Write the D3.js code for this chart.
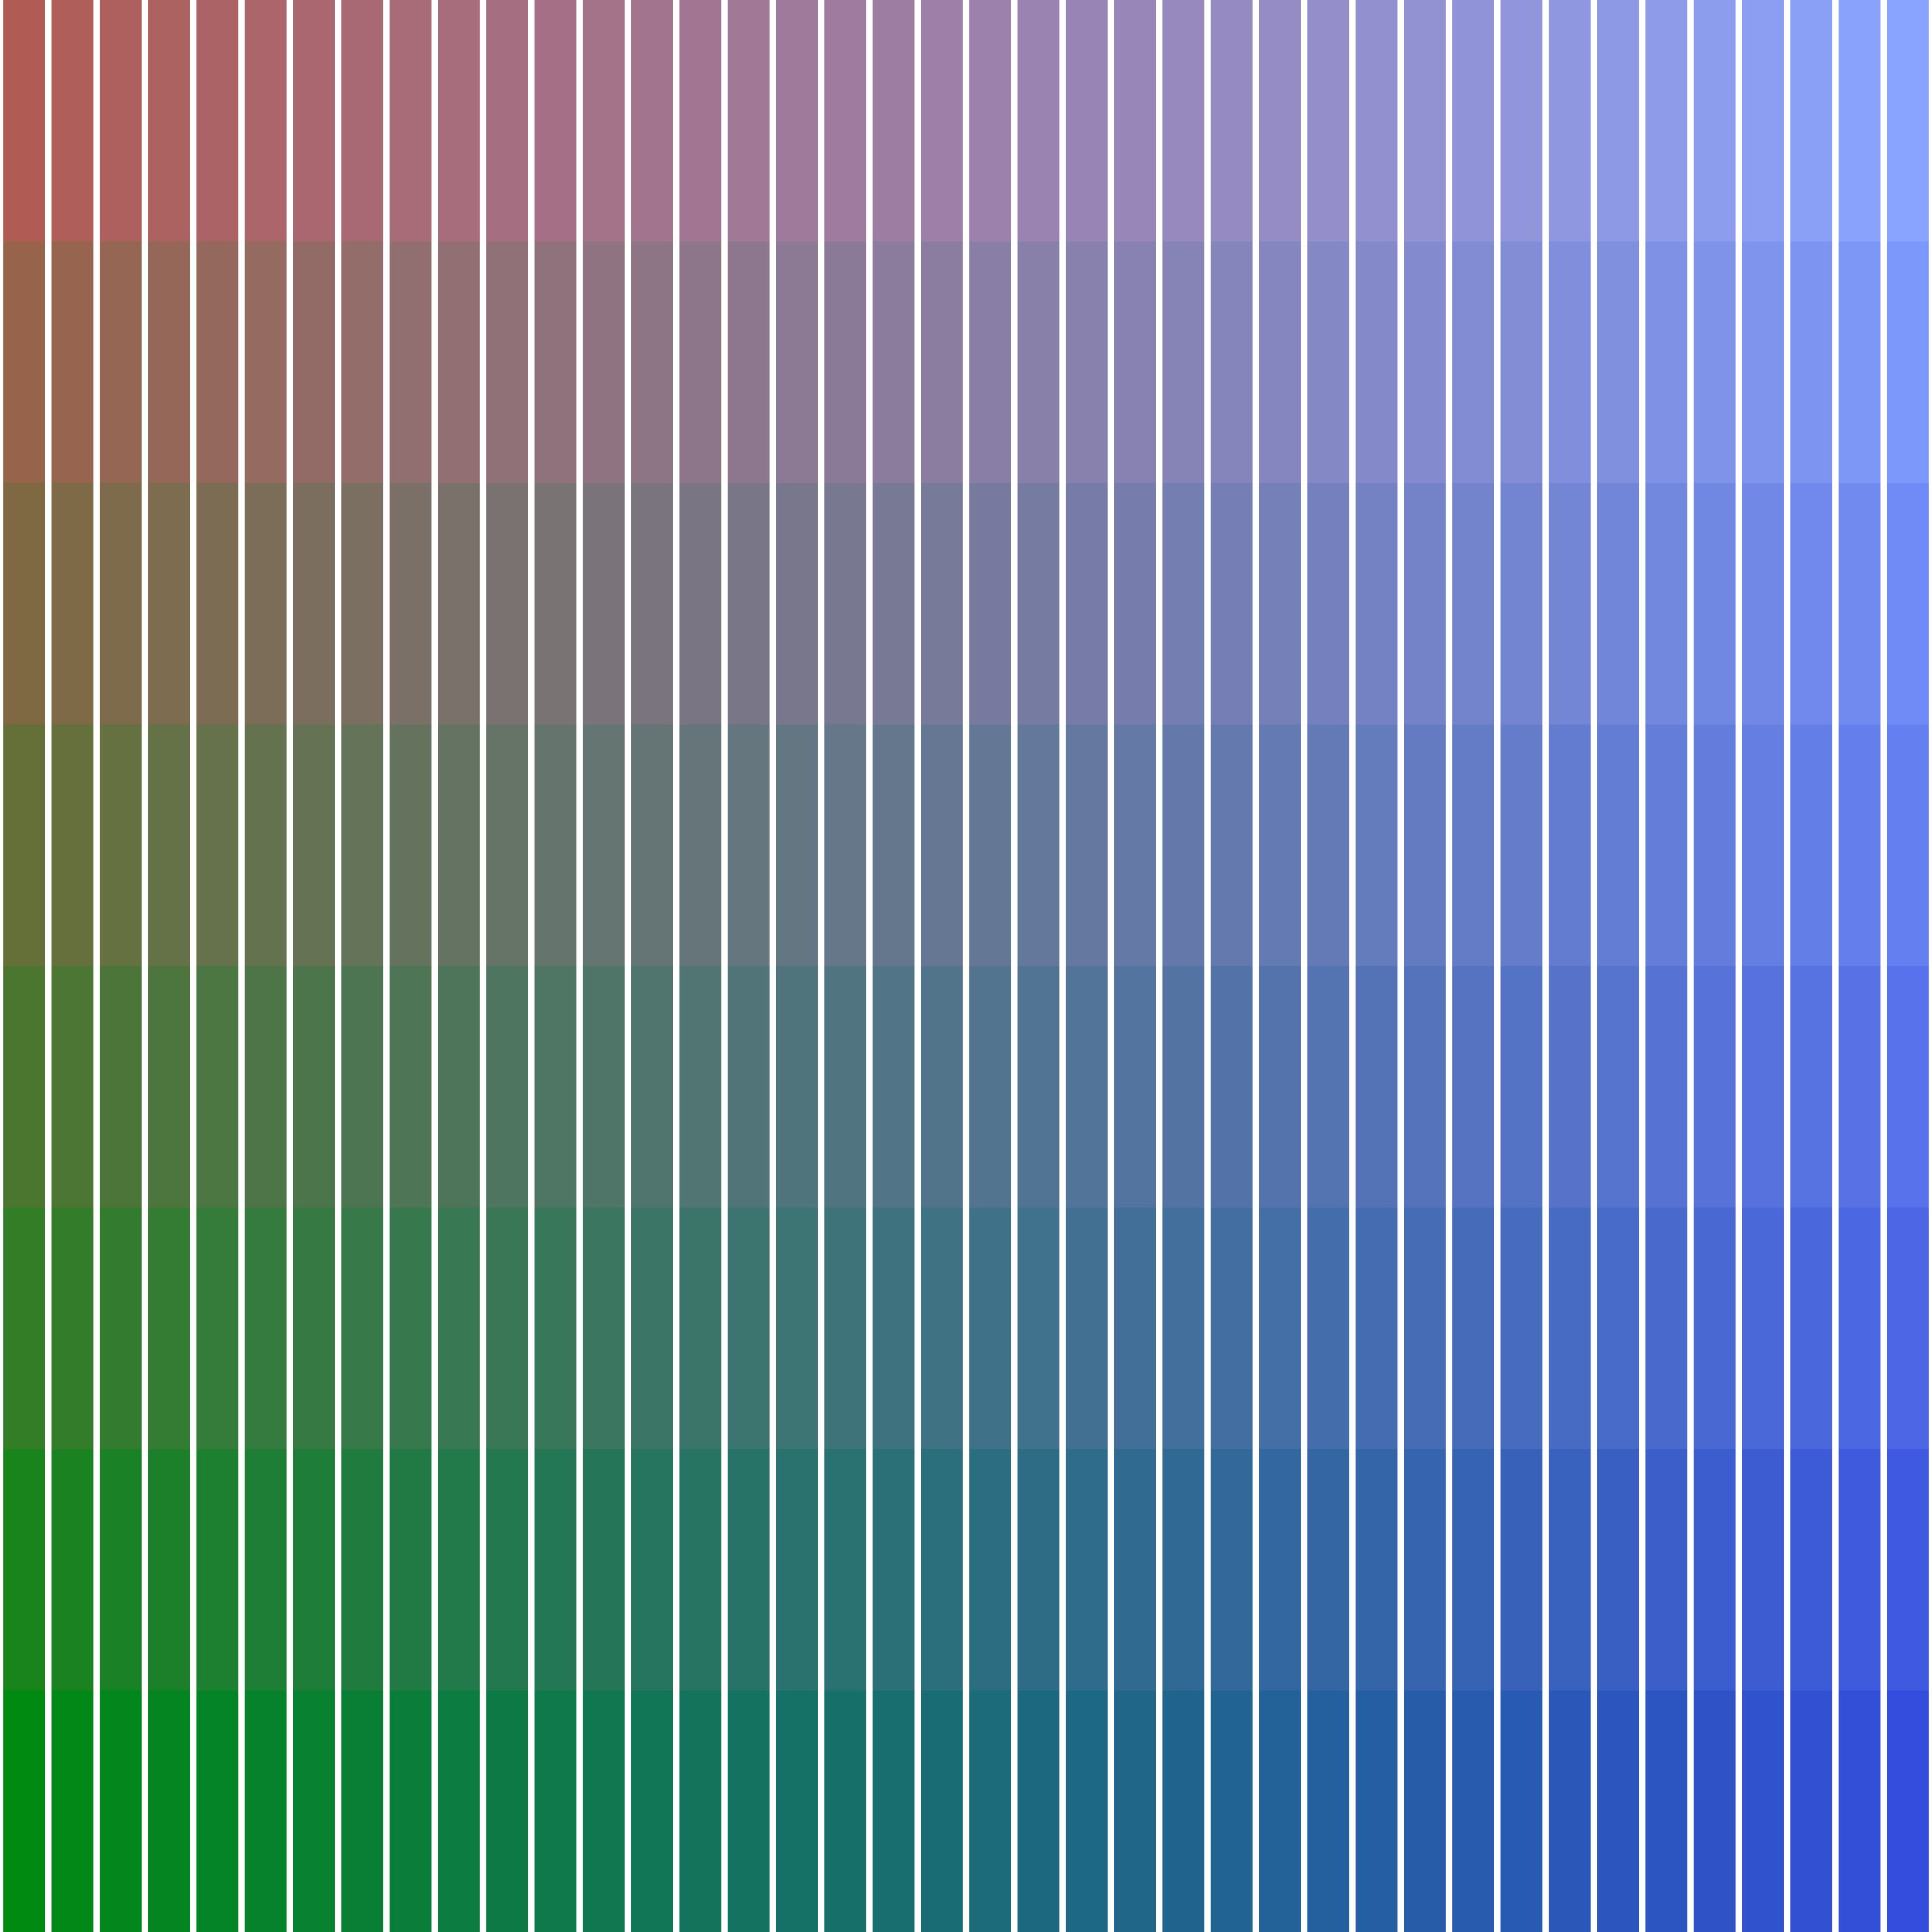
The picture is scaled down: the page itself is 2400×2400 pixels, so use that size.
<!DOCTYPE html>
<html>
<head>
<meta charset="utf-8">
<script src="https://cdn.jsdelivr.net/npm/d3@7"></script>
<style>
  html, body { margin: 0; padding: 0; background: #ffffff; }
</style>
</head>
<body>
<div id="grid"></div>
<script>
// column and row categories
var columns = [0, 1, 2, 3, 4, 5, 6, 7, 8, 9,
               10, 11, 12, 13, 14, 15, 16, 17, 18, 19,
               20, 21, 22, 23, 24, 25, 26, 27, 28, 29,
               30, 31, 32, 33, 34, 35, 36, 37, 38, 39];
var rows = [0, 1, 2, 3, 4, 5, 6, 7];

// corner colours of the grid
var cornerLeft = ["#b05c55", "#008a12"];   // top, bottom
var cornerRight = ["#88a4ff", "#344ddc"];  // top, bottom

function drawGrid() {

  var svgWidth = 2400;
  var svgHeight = 2400;

  var svg = d3.select("#grid")
      .append("svg")
      .attr("width", svgWidth)
      .attr("height", svgHeight)
      .style("display", "block");

  // band scales for cells
  var xScale = d3.scaleBand()
      .domain(columns)
      .range([0, svgWidth])
      .paddingInner(8 / 60)
      .paddingOuter(4 / 60);

  var yScale = d3.scaleBand()
      .domain(rows)
      .range([0, svgHeight])
      .padding(0);

  // colour along each edge, then across the row
  var leftColor = d3.scaleLinear()
      .domain([rows[0], rows[rows.length - 1]])
      .range(cornerLeft)
      .interpolate(d3.interpolateRgb);

  var rightColor = d3.scaleLinear()
      .domain([rows[0], rows[rows.length - 1]])
      .range(cornerRight)
      .interpolate(d3.interpolateRgb);

  function cellColor(c, r) {
    return d3.scaleLinear()
      .domain([columns[0], columns[columns.length - 1]])
      .range([leftColor(r), rightColor(r)])
      .interpolate(d3.interpolateRgb)(c);
  }

  var cells = [];
  rows.forEach(function(r) {
    columns.forEach(function(c) {
      cells.push({col: c, row: r});
    });
  });

  svg.append("g")
      .attr("shape-rendering", "crispEdges")
      .selectAll("rect")
      .data(cells)
      .enter()
      .append("rect")
      .attr("x", d => xScale(d.col))
      .attr("y", d => yScale(d.row))
      .attr("width", xScale.bandwidth())
      .attr("height", yScale.bandwidth())
      .attr("fill", d => cellColor(d.col, d.row));
}

drawGrid();
</script>
</body>
</html>
